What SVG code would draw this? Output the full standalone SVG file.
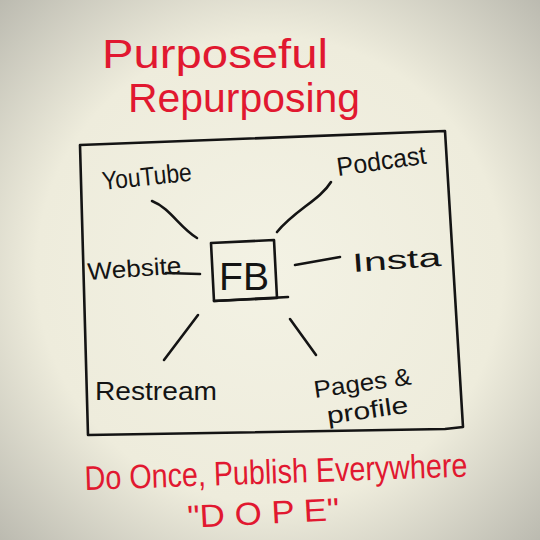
<svg xmlns="http://www.w3.org/2000/svg" width="540" height="540" viewBox="0 0 540 540">
<defs>
<radialGradient id="bg" cx="50%" cy="50%" r="72%">
<stop offset="0" stop-color="#f3f2e4"/>
<stop offset="0.6" stop-color="#eeecdc"/>
<stop offset="1" stop-color="#b9b8ae"/>
</radialGradient>
<style>
.red{fill:#e11830;font-family:"Liberation Sans",Arial,sans-serif}
.ink{fill:#141414;font-family:"Liberation Sans",Arial,sans-serif}
.ln{fill:none;stroke:#141414;stroke-width:2.6;stroke-linecap:round;stroke-linejoin:round}
</style>
</defs>
<rect width="540" height="540" fill="url(#bg)"/>
<g id="title">
<text class="red" x="102" y="68" font-size="40" textLength="226" lengthAdjust="spacingAndGlyphs">Purposeful</text>
<text class="red" x="128" y="112" font-size="40" textLength="232" lengthAdjust="spacingAndGlyphs">Repurposing</text>
</g>
<g id="frame">
<path class="ln" d="M80,145 L445,131 L463,427 L445,429 L88,435 Z"/>
</g>
<g id="connectors">
<path class="ln" d="M152,201 C170,208 180,228 197,238"/>
<path class="ln" d="M331,182 C320,200 295,210 277,232"/>
<path class="ln" d="M166,273 L200,274"/>
<path class="ln" d="M295,265 L340,257"/>
<path class="ln" d="M198,315 L164,360"/>
<path class="ln" d="M290,319 L316,355"/>
</g>
<g id="FB">
<path class="ln" d="M211,243 L274,240 L277,298 L214,301 Z"/>
<path class="ln" d="M214,301 L288,297"/>
<text class="ink" x="219" y="290" font-size="38" textLength="50" lengthAdjust="spacingAndGlyphs">FB</text>
</g>
<g id="youtube">
<text class="ink" x="103" y="190" font-size="26" textLength="90" lengthAdjust="spacingAndGlyphs" transform="rotate(-6 103 190)">YouTube</text>
</g>
<g id="podcast">
<text class="ink" x="338" y="176" font-size="26" textLength="90" lengthAdjust="spacingAndGlyphs" transform="rotate(-8 338 176)">Podcast</text>
</g>
<g id="website">
<text class="ink" x="88" y="280" font-size="24" textLength="94" lengthAdjust="spacingAndGlyphs" transform="rotate(-4 88 280)">Website</text>
</g>
<g id="insta">
<text class="ink" x="353" y="272" font-size="26" textLength="89" lengthAdjust="spacingAndGlyphs" transform="rotate(-4 353 272)">Insta</text>
</g>
<g id="restream">
<text class="ink" x="95" y="400" font-size="26" textLength="122" lengthAdjust="spacingAndGlyphs">Restream</text>
</g>
<g id="pages">
<text class="ink" x="315" y="398" font-size="24" textLength="98" lengthAdjust="spacingAndGlyphs" transform="rotate(-8 315 398)">Pages &amp;</text>
<text class="ink" x="328" y="424" font-size="24" textLength="82" lengthAdjust="spacingAndGlyphs" transform="rotate(-8 328 424)">profile</text>
</g>
<g id="footer">
<text class="red" x="85" y="490" font-size="34" textLength="383" lengthAdjust="spacingAndGlyphs" transform="rotate(-2 85 490)">Do Once, Publish Everywhere</text>
<text class="red" x="188" y="528" font-size="32" textLength="152" lengthAdjust="spacingAndGlyphs" transform="rotate(-3 188 528)">"D O P E"</text>
</g>
</svg>
